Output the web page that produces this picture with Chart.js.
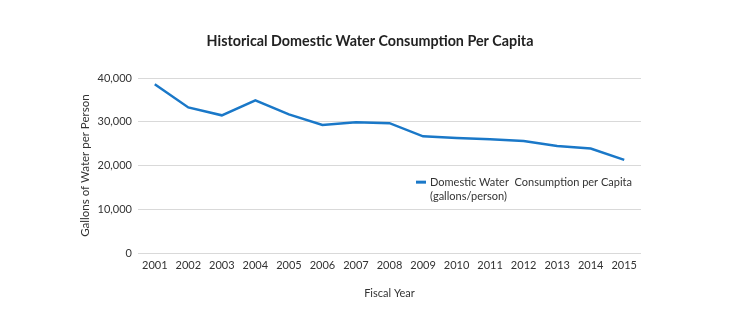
<!DOCTYPE html>
<html>
<head>
  <style>
    html, body {
      margin: 0;
      padding: 0;
      background: #ffffff;
    }

    .chart-container {
      position: relative;
      width: 750px;
      height: 326px;
    }
  </style>
  <script src="https://cdn.jsdelivr.net/npm/chart.js"></script>
</head>
<body>
  <div class="chart-container">
    <canvas id="consumptionChart"></canvas>
  </div>

  <script>
    const fiscalYears = ['2001', '2002', '2003', '2004', '2005', '2006', '2007', '2008',
      '2009', '2010', '2011', '2012', '2013', '2014', '2015'];
    const gallonsPerPerson = [38600, 33300, 31500, 34900, 31700, 29300, 29900, 29700,
      26700, 26300, 26000, 25600, 24500, 23900, 21300];
    const yTicks = [0, 10000, 20000, 30000, 40000];
    const seriesLabel = ['Domestic Water  Consumption per Capita', '(gallons/person)'];

    const FONT = "Lato, 'Open Sans', sans-serif";
    const LINE_BLUE = '#1a78c8';

    // legend drawn inside the plot, to the right below the line
    const insideLegend = {
      id: 'insideLegend',
      afterDraw(chart) {
        const { ctx, chartArea } = chart;
        const ds = chart.data.datasets[0];
        const x = chartArea.left + 292;
        const y = chartArea.top + 104;
        ctx.save();
        ctx.strokeStyle = ds.borderColor;
        ctx.lineWidth = 3;
        ctx.beginPath();
        ctx.moveTo(x - 14, y);
        ctx.lineTo(x - 4, y);
        ctx.stroke();
        ctx.fillStyle = '#333';
        ctx.font = '11px ' + FONT;
        ctx.textBaseline = 'middle';
        ds.label.forEach((line, i) => ctx.fillText(line, x, y + i * 14.5));
        ctx.restore();
      }
    };

    const ctx = document.getElementById('consumptionChart').getContext('2d');
    new Chart(ctx, {
      type: 'line',
      data: {
        labels: fiscalYears,
        datasets: [{
          label: seriesLabel,
          data: gallonsPerPerson,
          borderColor: LINE_BLUE,
          borderWidth: 2.5,
          pointRadius: 0,
          tension: 0,
          fill: false
        }]
      },
      options: {
        responsive: true,
        maintainAspectRatio: false,
        animation: false,
        layout: {
          padding: { left: 0, right: 10, top: 0, bottom: 0 }
        },
        plugins: {
          legend: { display: false },
          tooltip: { enabled: false },
          title: {
            display: true,
            text: 'Historical Domestic Water Consumption Per Capita',
            color: '#222',
            font: { family: FONT, size: 14.3, weight: 'bold', lineHeight: 1.2 },
            padding: { top: 33, bottom: 28 }
          }
        },
        scales: {
          x: {
            offset: true,
            grid: { display: false, drawTicks: false },
            border: { display: false },
            ticks: {
              color: '#333',
              font: { family: FONT, size: 11 },
              padding: 6,
              maxRotation: 0,
              autoSkip: false
            },
            title: {
              display: true,
              text: 'Fiscal Year',
              color: '#333',
              font: { family: FONT, size: 11, lineHeight: 1.2 },
              padding: { top: 0, bottom: 26 }
            },
            afterFit(scale) {
              scale.height = 73;
            }
          },
          y: {
            min: 0,
            max: 40000,
            afterBuildTicks(scale) {
              scale.ticks = yTicks.map(v => ({ value: v }));
            },
            grid: { color: '#d9d9d9', lineWidth: 1, drawTicks: false },
            border: { display: false },
            ticks: {
              color: '#333',
              font: { family: FONT, size: 11 },
              padding: 6,
              callback: v => v.toLocaleString('en-US')
            },
            title: {
              display: true,
              text: 'Gallons of Water per Person',
              color: '#333',
              font: { family: FONT, size: 11.5, lineHeight: 1.2 },
              padding: { top: 78, bottom: 0 }
            },
            afterFit(scale) {
              scale.width = 138;
            }
          },
          // empty right-hand axis reserving the space beside the plot
          spacer: {
            type: 'linear',
            position: 'right',
            display: true,
            grid: { display: false, drawTicks: false },
            border: { display: false },
            ticks: { display: false },
            afterFit(scale) {
              scale.width = 99;
            }
          }
        }
      },
      plugins: [insideLegend]
    });
  </script>
</body>
</html>
